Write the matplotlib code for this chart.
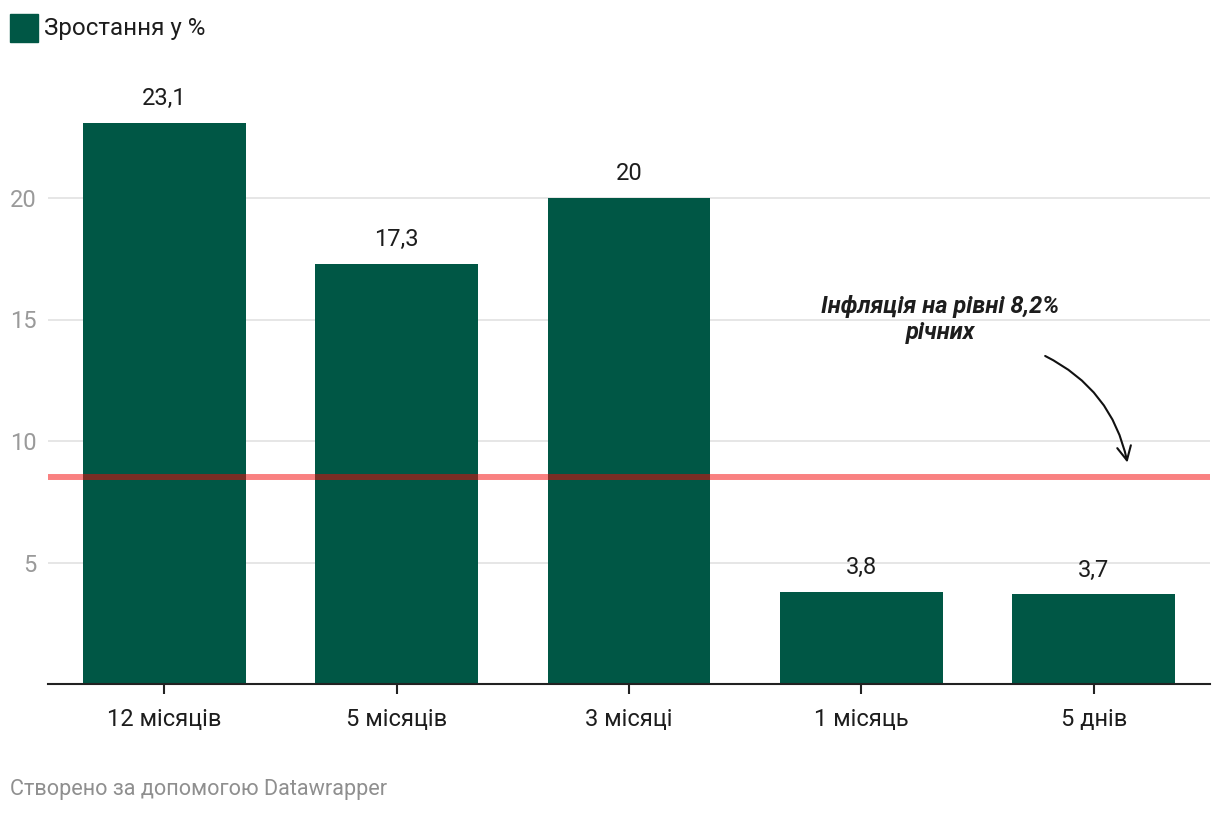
import matplotlib
matplotlib.use('Agg')
import matplotlib.pyplot as plt

plt.rcParams['font.family'] = ['Roboto', 'DejaVu Sans']

# data
categories = ['12 місяців', '5 місяців', '3 місяці', '1 місяць', '5 днів']
values = [23.1, 17.3, 20.0, 3.8, 3.7]
value_labels = ['23,1', '17,3', '20', '3,8', '3,7']
y_ticks = [5, 10, 15, 20]
inflation_line = 8.5
series_name = 'Зростання у %'
note_text = 'Інфляція на рівні 8,2%\nрічних'
footer = 'Створено за допомогою Datawrapper'

BAR_COLOR = '#005745'
TEXT_COLOR = '#1d1d1d'

fig = plt.figure(figsize=(12.2, 8.16), dpi=100)
ax = fig.add_axes([48 / 1220, 132 / 816, 1162 / 1220, 607.5 / 816])

x = list(range(len(categories)))
ax.bar(x, values, width=0.70, color=BAR_COLOR, zorder=2)

# value labels above bars
for xi, v, lab in zip(x, values, value_labels):
    ax.annotate(lab, (xi, v), xytext=(0, 9), textcoords='offset points',
                ha='center', va='bottom', fontsize=17, color=TEXT_COLOR)

# inflation reference line
ax.axhline(inflation_line, color='#f50505', alpha=0.5, linewidth=4.3, zorder=3)

ax.annotate('', xy=(4.147, 9.0), xytext=(3.78, 13.55),
            arrowprops=dict(arrowstyle='->,head_length=0.4,head_width=0.2',
                            color='#111111', lw=1.5,
                            connectionstyle='arc3,rad=-0.25',
                            mutation_scale=25))
ax.text(3.34, 15.0, note_text, ha='center', va='center', fontsize=17,
        fontweight='bold', fontstyle='italic', color=TEXT_COLOR,
        linespacing=1.15)

ax.set_xlim(-0.5, 4.5)
ax.set_ylim(0, 25)
ax.set_xticks(x)
ax.set_xticklabels(categories, fontsize=17, color=TEXT_COLOR)
ax.set_yticks(y_ticks)
ax.set_yticklabels([str(t) for t in y_ticks], fontsize=17, color='#9a9a9a')
ax.tick_params(axis='x', length=7, width=1.5, color='#222222', pad=10)
ax.tick_params(axis='y', length=0, pad=8)
ax.yaxis.grid(True, color='#e2e2e2', linewidth=1.2, zorder=0)
ax.set_axisbelow(True)

for side in ['top', 'right', 'left']:
    ax.spines[side].set_visible(False)
ax.spines['bottom'].set_color('#222222')
ax.spines['bottom'].set_linewidth(1.5)
ax.spines['bottom'].set_zorder(4)

# legend square + label
fig.patches.append(plt.Rectangle((10 / 1220, 1 - 42 / 816), 28 / 1220, 28 / 816,
                                 transform=fig.transFigure, color=BAR_COLOR))
fig.text(44 / 1220, 1 - 28 / 816, series_name, ha='left', va='center',
         fontsize=17.4, color=TEXT_COLOR)

fig.text(10 / 1220, 1 - 790 / 816, footer, ha='left', va='center',
         fontsize=15.6, color='#8f8f8f')

fig.savefig('out.png', dpi=100)
